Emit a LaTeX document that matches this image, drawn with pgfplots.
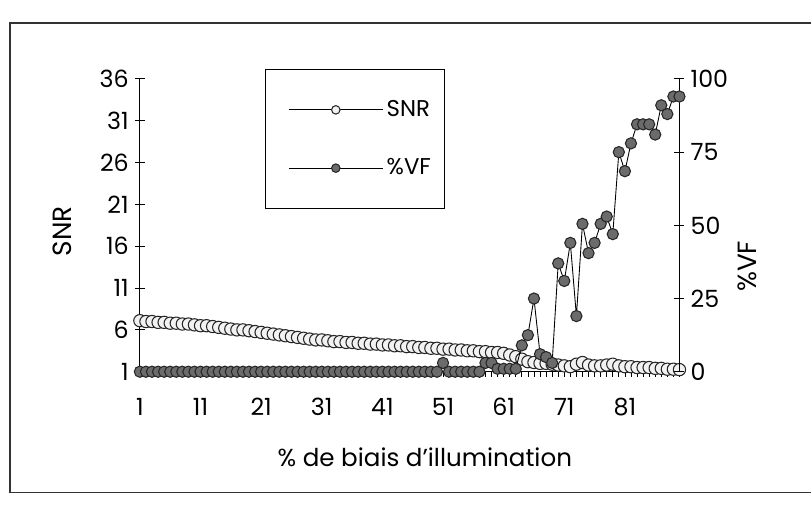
\documentclass[border=0pt]{standalone}
\usepackage{fontspec}
\setmainfont{Poppins}
\usepackage{pgfplots}
\usepackage{pgfplotstable}
\pgfplotsset{compat=1.18}

% SNR and %VF for each illumination bias step
\pgfplotstableread{
x snr vf
1 7.1 0
2 7.0 0
3 7.0 0
4 6.9 0
5 6.9 0
6 6.8 0
7 6.8 0
8 6.7 0
9 6.7 0
10 6.6 0
11 6.5 0
12 6.5 0
13 6.4 0
14 6.3 0
15 6.2 0
16 6.1 0
17 6.0 0
18 6.0 0
19 5.9 0
20 5.8 0
21 5.7 0
22 5.6 0
23 5.5 0
24 5.4 0
25 5.3 0
26 5.2 0
27 5.1 0
28 5.0 0
29 4.9 0
30 4.8 0
31 4.8 0
32 4.7 0
33 4.6 0
34 4.6 0
35 4.5 0
36 4.5 0
37 4.4 0
38 4.4 0
39 4.3 0
40 4.3 0
41 4.2 0
42 4.2 0
43 4.1 0
44 4.1 0
45 4.0 0
46 4.0 0
47 3.9 0
48 3.9 0
49 3.8 0
50 3.8 0
51 3.7 3
52 3.7 0
53 3.6 0
54 3.6 0
55 3.5 0
56 3.5 0
57 3.4 0
58 3.4 3
59 3.3 3
60 3.3 1
61 3.2 1
62 3.0 1
63 2.8 1
64 2.5 9
65 2.2 12.5
66 2.1 25
67 2.0 6
68 2.0 5
69 1.9 3
70 1.8 37
71 1.7 31
72 1.6 44
73 1.9 19
74 2.1 50.5
75 1.8 40.5
76 1.7 44
77 1.7 50.5
78 1.8 53
79 1.9 47
80 1.7 75
81 1.6 68.5
82 1.6 78
83 1.5 84.5
84 1.5 84.5
85 1.5 84.5
86 1.4 81
87 1.4 91
88 1.3 88
89 1.3 94
90 1.25 94
}\biasdata

\begin{document}
\begin{tikzpicture}
\path (0,0) rectangle (16.24,10.1);
% chart area frame
\draw[line width=0.7pt, black!80] (16.24,9.64) -- (0.2,9.64) -- (0.2,0.24) -- (16.24,0.24);

\pgfplotsset{
  common/.style={
    at={(2.8cm,2.66cm)}, anchor=south west,
    width=10.8cm, height=5.86cm, scale only axis,
    xmin=1, xmax=90, clip=false,
    tick align=center, major tick length=0.2cm,
    every tick/.style={black, line width=0.6pt},
    axis line style={black, line width=0.6pt},
    ticklabel style={font=\fontsize{13.5}{16}\selectfont},
    /pgf/number format/assume math mode=true,
  }
}

% small tick marks at every category
\begin{axis}[common, ymin=0, ymax=1,
  axis x line*=bottom, hide y axis,
  xtick={1,...,90}, xticklabels={},
  tick align=outside, major tick length=0.1cm,
  every tick/.style={black, line width=0.4pt}]
\end{axis}

% SNR axis
\begin{axis}[common,
  ymin=1, ymax=36,
  axis x line*=bottom, axis y line*=left,
  xtick={1,11,...,81}, xtick style={draw=none},
  xticklabel style={yshift=-0.3cm},
  ytick={1,6,...,36},
  xlabel={\% de biais d'illumination},
  every axis x label/.style={at={(axis description cs:0.528,-0.293)}, anchor=center,
    font=\fontsize{14}{16}\selectfont},
  ylabel={SNR},
  every axis y label/.style={at={(axis description cs:-0.144,0.48)}, rotate=90, anchor=center,
    font=\fontsize{15}{17}\selectfont},
]
\addplot[black, line width=0.5pt, mark=*, mark size=3.5pt,
  mark options={fill=gray!10, draw=black!85, line width=0.6pt}]
  table[x=x, y=snr] {\biasdata};
\end{axis}

% %VF axis
\begin{axis}[common,
  ymin=0, ymax=100,
  axis x line=none, axis y line*=right,
  ytick={0,25,...,100},
  ylabel={\%VF},
  every axis y label/.style={at={(axis description cs:1.126,0.36)}, rotate=90, anchor=center,
    font=\fontsize{15}{17}\selectfont},
  legend cell align=left,
  legend style={at={(rel axis cs:0.2315,1.034)}, anchor=north west,
    draw=black, line width=0.6pt, fill=white,
    font=\fontsize{13}{15}\selectfont,
    inner xsep=0.2cm, inner ysep=0.55cm, row sep=0.65cm},
]
\addlegendimage{legend image code/.code={
  \path (0cm,0cm);
  \draw[black, line width=0.5pt] (0.26cm,0cm) -- (2.14cm,0cm);
  \draw[fill=gray!10, draw=black!85, line width=0.6pt] (1.2cm,0cm) circle (0.085cm);}}
\addlegendentry{SNR}
\addplot[black, line width=0.5pt, mark=*, mark size=3.2pt,
  mark options={fill=black!58, draw=black!85, line width=0.6pt},
  legend image code/.code={
  \path (0cm,0cm);
  \draw[black, line width=0.5pt] (0.26cm,0cm) -- (2.14cm,0cm);
  \draw[fill=black!58, draw=black!85, line width=0.6pt] (1.2cm,0cm) circle (0.085cm);}]
  table[x=x, y=vf] {\biasdata};
\addlegendentry{\%VF}
\end{axis}
\end{tikzpicture}
\end{document}
